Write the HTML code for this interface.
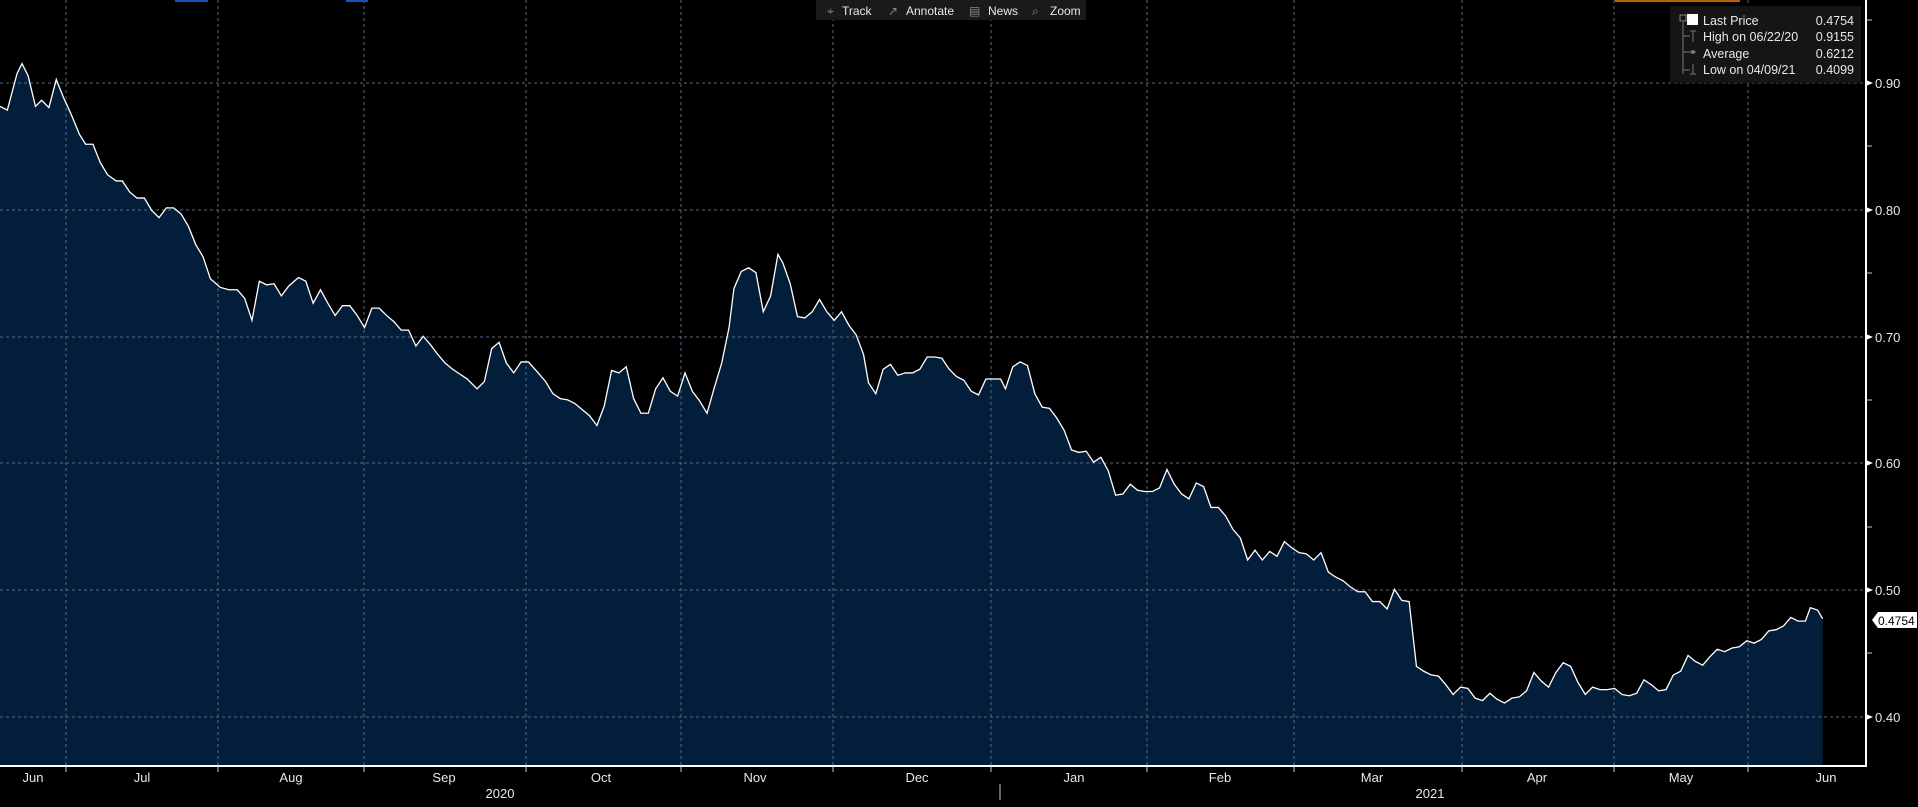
<!DOCTYPE html>
<html><head><meta charset="utf-8"><style>
html,body{margin:0;padding:0;background:#000;width:1918px;height:807px;overflow:hidden}
svg{display:block}
text{font-family:"Liberation Sans",sans-serif;fill:#e8e8e8}
</style></head><body>
<svg width="1918" height="807" viewBox="0 0 1918 807" xmlns="http://www.w3.org/2000/svg">
<rect width="1918" height="807" fill="#000"/>
<g transform="scale(1.2232,1.2227)">
<path fill="#031e3b" stroke="none" d="M0,87 L6,90 14,60 18,52 23,62 29,87 34,82 40,88 46,65 52,80 58,93 65,110 70,118 76,118 82,133 88,143 95,148 100,148 106,157 112,162 118,162 124,172 130,178 136,170 142,170 148,175 154,185 160,200 166,210 172,228 180,235 187,237 194,237 200,244 206,262 212,230 218,233 224,232 230,242 236,234 244,227 250,230 256,248 262,237 268,248 274,258 280,250 286,250 292,258 298,268 304,252 310,252 316,258 322,263 328,270 334,270 340,283 346,275 352,282 358,290 364,297 370,302 376,306 382,310 390,318 396,312 402,285 408,280 414,297 420,305 426,296 432,296 440,305 446,312 452,322 458,326 464,327 470,330 476,335 482,340 488,348 494,332 500,303 506,305 512,300 518,326 524,338 530,338 536,318 542,309 548,320 554,324 560,305 566,320 572,328 578,338 584,317 590,297 596,268 600,236 606,222 612,219 618,223 624,255 630,242 636,208 640,215 646,232 652,259 658,260 664,255 670,245 676,255 682,262 688,255 694,266 700,274 706,290 710,313 716,322 722,302 728,298 734,307 740,305 746,305 752,302 758,292 764,292 770,293 776,302 782,308 788,311 794,320 800,323 806,310 812,310 818,310 822,318 828,300 834,296 840,299 846,322 852,333 858,334 864,342 870,352 876,368 882,370 888,369 894,378 900,374 906,385 912,405 918,404 924,396 930,401 936,402 942,402 948,399 954,384 960,396 966,404 972,408 978,395 984,398 990,415 996,415 1002,422 1008,433 1014,440 1020,458 1026,450 1032,458 1038,451 1044,455 1050,443 1056,448 1062,452 1068,453 1074,458 1080,452 1086,468 1092,472 1098,475 1104,480 1110,484 1116,484 1122,492 1128,492 1134,498 1140,482 1146,491 1152,492 1158,545 1164,549 1170,552 1176,553 1182,560 1188,568 1194,562 1200,563 1206,571 1212,573 1218,567 1224,572 1230,575 1236,571 1242,570 1248,565 1254,550 1260,557 1266,562 1272,550 1278,542 1284,545 1290,558 1296,568 1302,562 1308,564 1314,564 1320,563 1326,568 1332,569 1338,567 1344,556 1350,560 1356,565 1362,564 1368,552 1374,549 1380,536 1386,541 1392,544 1398,537 1404,531 1410,533 1416,530 1422,529 1428,524 1434,526 1440,523 1446,516 1452,515 1458,512 1464,505 1470,508 1476,508 1480,497 1486,499 1490,506 L1490,626 L0,626 Z"/>
</g>
<g stroke="#5a6a80" stroke-width="1" stroke-dasharray="3,3">
<line x1="0" y1="83" x2="1866" y2="83"/><line x1="0" y1="210" x2="1866" y2="210"/>
<line x1="0" y1="337" x2="1866" y2="337"/><line x1="0" y1="463" x2="1866" y2="463"/>
<line x1="0" y1="590" x2="1866" y2="590"/><line x1="0" y1="717" x2="1866" y2="717"/>
<line x1="66" y1="0" x2="66" y2="766"/><line x1="218" y1="0" x2="218" y2="766"/>
<line x1="364" y1="0" x2="364" y2="766"/><line x1="526" y1="0" x2="526" y2="766"/>
<line x1="681" y1="0" x2="681" y2="766"/><line x1="833" y1="0" x2="833" y2="766"/>
<line x1="991" y1="0" x2="991" y2="766"/><line x1="1147" y1="0" x2="1147" y2="766"/>
<line x1="1294" y1="0" x2="1294" y2="766"/><line x1="1462" y1="0" x2="1462" y2="766"/>
<line x1="1614" y1="0" x2="1614" y2="766"/><line x1="1748" y1="0" x2="1748" y2="766"/>
</g>
<g transform="scale(1.2232,1.2227)">
<path fill="none" stroke="#fff" stroke-width="1.3" vector-effect="non-scaling-stroke" d="M0,87 L6,90 14,60 18,52 23,62 29,87 34,82 40,88 46,65 52,80 58,93 65,110 70,118 76,118 82,133 88,143 95,148 100,148 106,157 112,162 118,162 124,172 130,178 136,170 142,170 148,175 154,185 160,200 166,210 172,228 180,235 187,237 194,237 200,244 206,262 212,230 218,233 224,232 230,242 236,234 244,227 250,230 256,248 262,237 268,248 274,258 280,250 286,250 292,258 298,268 304,252 310,252 316,258 322,263 328,270 334,270 340,283 346,275 352,282 358,290 364,297 370,302 376,306 382,310 390,318 396,312 402,285 408,280 414,297 420,305 426,296 432,296 440,305 446,312 452,322 458,326 464,327 470,330 476,335 482,340 488,348 494,332 500,303 506,305 512,300 518,326 524,338 530,338 536,318 542,309 548,320 554,324 560,305 566,320 572,328 578,338 584,317 590,297 596,268 600,236 606,222 612,219 618,223 624,255 630,242 636,208 640,215 646,232 652,259 658,260 664,255 670,245 676,255 682,262 688,255 694,266 700,274 706,290 710,313 716,322 722,302 728,298 734,307 740,305 746,305 752,302 758,292 764,292 770,293 776,302 782,308 788,311 794,320 800,323 806,310 812,310 818,310 822,318 828,300 834,296 840,299 846,322 852,333 858,334 864,342 870,352 876,368 882,370 888,369 894,378 900,374 906,385 912,405 918,404 924,396 930,401 936,402 942,402 948,399 954,384 960,396 966,404 972,408 978,395 984,398 990,415 996,415 1002,422 1008,433 1014,440 1020,458 1026,450 1032,458 1038,451 1044,455 1050,443 1056,448 1062,452 1068,453 1074,458 1080,452 1086,468 1092,472 1098,475 1104,480 1110,484 1116,484 1122,492 1128,492 1134,498 1140,482 1146,491 1152,492 1158,545 1164,549 1170,552 1176,553 1182,560 1188,568 1194,562 1200,563 1206,571 1212,573 1218,567 1224,572 1230,575 1236,571 1242,570 1248,565 1254,550 1260,557 1266,562 1272,550 1278,542 1284,545 1290,558 1296,568 1302,562 1308,564 1314,564 1320,563 1326,568 1332,569 1338,567 1344,556 1350,560 1356,565 1362,564 1368,552 1374,549 1380,536 1386,541 1392,544 1398,537 1404,531 1410,533 1416,530 1422,529 1428,524 1434,526 1440,523 1446,516 1452,515 1458,512 1464,505 1470,508 1476,508 1480,497 1486,499 1490,506"/>
</g>
<g stroke="#fff" stroke-width="2">
<line x1="0" y1="766" x2="1867" y2="766"/><line x1="1866" y1="0" x2="1866" y2="767"/>
</g>
<g stroke="#ccc" stroke-width="1">
<line x1="66" y1="766" x2="66" y2="772"/><line x1="218" y1="766" x2="218" y2="772"/><line x1="364" y1="766" x2="364" y2="772"/><line x1="526" y1="766" x2="526" y2="772"/><line x1="681" y1="766" x2="681" y2="772"/><line x1="833" y1="766" x2="833" y2="772"/><line x1="991" y1="766" x2="991" y2="772"/><line x1="1147" y1="766" x2="1147" y2="772"/><line x1="1294" y1="766" x2="1294" y2="772"/><line x1="1462" y1="766" x2="1462" y2="772"/><line x1="1614" y1="766" x2="1614" y2="772"/><line x1="1748" y1="766" x2="1748" y2="772"/>
<line x1="1000" y1="784" x2="1000" y2="800"/>
<line x1="1866" y1="20" x2="1872" y2="20"/><line x1="1866" y1="146" x2="1872" y2="146"/><line x1="1866" y1="273" x2="1872" y2="273"/><line x1="1866" y1="400" x2="1872" y2="400"/><line x1="1866" y1="527" x2="1872" y2="527"/><line x1="1866" y1="653" x2="1872" y2="653"/>
</g>
<g fill="#fff">
<path d="M1866,80 L1873,83 L1866,86Z"/><path d="M1866,207 L1873,210 L1866,213Z"/><path d="M1866,334 L1873,337 L1866,340Z"/><path d="M1866,460 L1873,463 L1866,466Z"/><path d="M1866,587 L1873,590 L1866,593Z"/><path d="M1866,714 L1873,717 L1866,720Z"/>
</g>
<g font-size="13">
<text x="1875" y="88">0.90</text><text x="1875" y="215">0.80</text><text x="1875" y="342">0.70</text><text x="1875" y="468">0.60</text><text x="1875" y="595">0.50</text><text x="1875" y="722">0.40</text>
</g>
<path d="M1872,620 L1878,612 L1917,612 L1917,628 L1878,628Z" fill="#fff"/>
<text x="1878" y="625" font-size="12" style="fill:#000">0.4754</text>
<g font-size="13" text-anchor="middle">
<text x="33" y="782">Jun</text><text x="142" y="782">Jul</text><text x="291" y="782">Aug</text><text x="444" y="782">Sep</text><text x="601" y="782">Oct</text><text x="755" y="782">Nov</text><text x="917" y="782">Dec</text><text x="1074" y="782">Jan</text><text x="1220" y="782">Feb</text><text x="1372" y="782">Mar</text><text x="1537" y="782">Apr</text><text x="1681" y="782">May</text><text x="1826" y="782">Jun</text>
<text x="500" y="798">2020</text><text x="1430" y="798">2021</text>
</g>
<rect x="175" y="0" width="33" height="2" fill="#1a50c0"/><rect x="346" y="0" width="22" height="2" fill="#1a50c0"/><rect x="1615" y="0" width="125" height="2" fill="#b8600a"/>
<rect x="816" y="0" width="270" height="20" fill="#1a1a1a"/>
<g font-size="12">
<text x="827" y="15" style="fill:#888">⌖</text><text x="842" y="15">Track</text>
<text x="888" y="15" style="fill:#888">↗</text><text x="906" y="15">Annotate</text>
<text x="969" y="15" style="fill:#888">▤</text><text x="988" y="15">News</text>
<text x="1032" y="15" style="fill:#888">⌕</text><text x="1050" y="15">Zoom</text>
</g>
<rect x="1670" y="6" width="191" height="77" fill="#151515"/>
<rect x="1680" y="15" width="6" height="6" fill="none" stroke="#888"/>
<rect x="1687" y="14" width="11" height="11" fill="#fff"/>
<g stroke="#777" stroke-width="1"><line x1="1683" y1="22" x2="1683" y2="74"/><line x1="1683" y1="36" x2="1690" y2="36"/><line x1="1683" y1="52" x2="1696" y2="52"/><line x1="1683" y1="70" x2="1690" y2="70"/><line x1="1693" y1="31" x2="1693" y2="42"/><line x1="1690" y1="31" x2="1696" y2="31"/><line x1="1693" y1="64" x2="1693" y2="74"/><line x1="1690" y1="74" x2="1696" y2="74"/></g>
<circle cx="1693" cy="52" r="2" fill="#777"/>
<g font-size="12.5">
<text x="1703" y="25">Last Price</text><text x="1703" y="41">High on 06/22/20</text><text x="1703" y="58">Average</text><text x="1703" y="74">Low on 04/09/21</text>
<text x="1854" y="25" text-anchor="end">0.4754</text><text x="1854" y="41" text-anchor="end">0.9155</text><text x="1854" y="58" text-anchor="end">0.6212</text><text x="1854" y="74" text-anchor="end">0.4099</text>
</g>
</svg>
</body></html>
